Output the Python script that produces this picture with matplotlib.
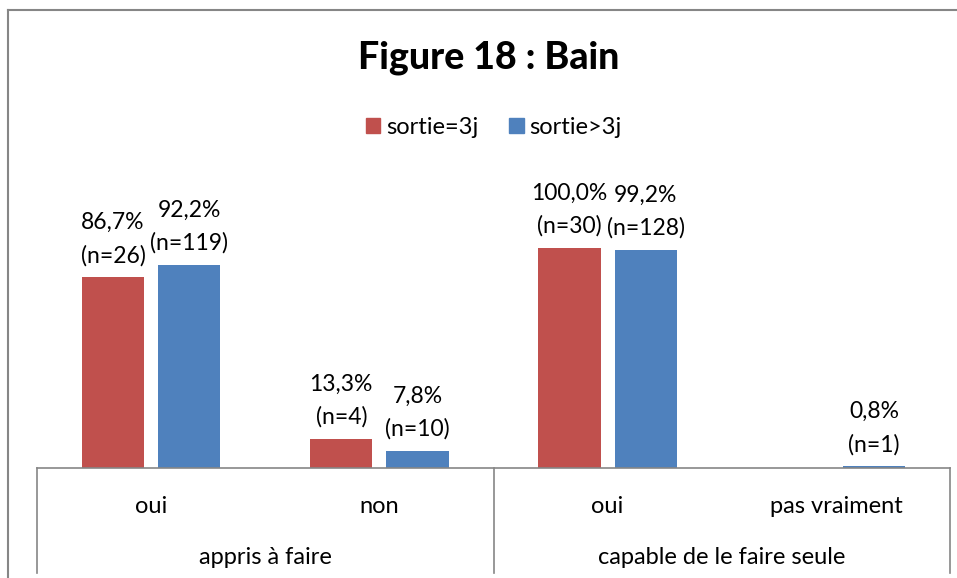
import matplotlib.pyplot as plt
from matplotlib.lines import Line2D
from matplotlib.patches import Patch

plt.rcParams['font.family'] = ['Lato', 'DejaVu Sans']

categories = ['oui', 'non', 'oui', 'pas vraiment']
groups = ['appris à faire', 'capable de le faire seule']
series_names = ['sortie=3j', 'sortie>3j']
pct_3j = [86.7, 13.3, 100.0, None]
n_3j = [26, 4, 30, None]
pct_gt3j = [92.2, 7.8, 99.2, 0.8]
n_gt3j = [119, 10, 128, 1]
colors = ['#C0504D', '#4F81BD']

W, H = 957, 578
fig = plt.figure(figsize=(W / 100, H / 100), dpi=100)
ax = fig.add_axes([37 / W, (H - 468) / H, (950 - 37) / W, (468 - 204) / H])

bw = 0.272
off = 0.167
x = list(range(len(categories)))
fs = 17
lfs = 16.5

for vals, ns, col, sgn in [(pct_3j, n_3j, colors[0], -1), (pct_gt3j, n_gt3j, colors[1], 1)]:
    for i, (v, n) in enumerate(zip(vals, ns)):
        if v is None:
            continue
        xc = i + sgn * off
        ax.bar(xc, v, width=bw, color=col)
        lab = f"{v:.1f}".replace('.', ',') + "%\n(n=" + str(n) + ")"
        ax.annotate(lab, (xc, v), xytext=(0, 8), textcoords='offset points',
                    ha='center', va='bottom', fontsize=lfs, linespacing=1.65)

ax.set_xlim(-0.5, len(categories) - 0.5)
ax.set_ylim(0, 120)
for s in ['left', 'right', 'top']:
    ax.spines[s].set_visible(False)
ax.spines['bottom'].set_color('#868686')
ax.spines['bottom'].set_linewidth(1.2)
ax.set_yticks([])
ax.set_xticks(x)
ax.set_xticklabels(categories, fontsize=fs)
ax.tick_params(axis='x', length=0, pad=20)

# group labels and separators
trans = ax.get_xaxis_transform()
for gi, g in enumerate(groups):
    ax.text(gi * 2 + 0.5, -(558 - 468) / (468 - 204), g, transform=trans,
            ha='center', va='center', fontsize=fs)
for xs in [-0.5, 1.5, 3.5]:
    ax.add_line(Line2D([xs, xs], [0, -(573 - 468) / (468 - 204)], transform=trans,
                       color='#868686', lw=1.2, clip_on=False))

# title
fig.text(489 / W, 1 - 58 / H, 'Figure 18 : Bain', ha='center', va='center',
         fontsize=27, fontweight='black')

# legend
handles = [Patch(color=c) for c in colors]
fig.legend(handles, series_names, loc='center', bbox_to_anchor=(494 / W, 1 - 127 / H),
           ncol=2, frameon=False, fontsize=fs, handlelength=0.6, handleheight=0.6,
           handletextpad=0.25, columnspacing=1.3)

# chart border
fig.add_artist(Line2D([8 / W, 8 / W], [0, 1 - 9.5 / H], transform=fig.transFigure,
                      color='#868686', lw=1.5))
fig.add_artist(Line2D([8 / W, 1], [1 - 9.5 / H, 1 - 9.5 / H], transform=fig.transFigure,
                      color='#868686', lw=1.5))

fig.savefig('out.png', dpi=100)
